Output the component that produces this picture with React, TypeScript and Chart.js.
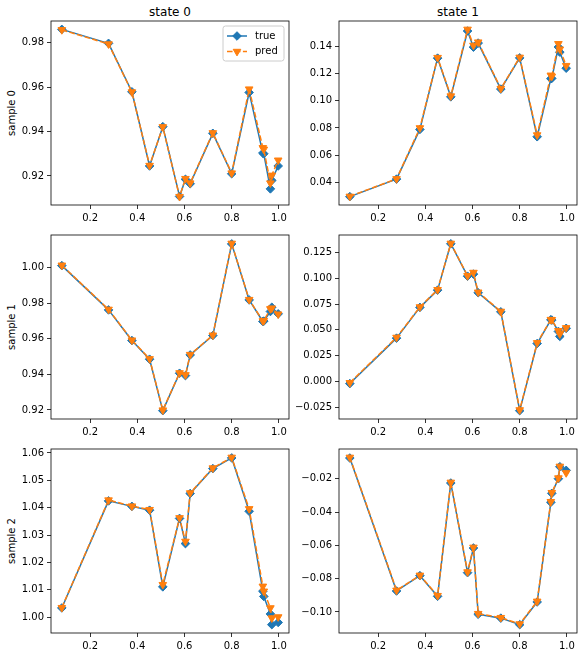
import React, { useEffect, useRef } from 'react';
import { Chart, registerables } from 'chart.js';

Chart.register(...registerables);

const FONT = '"DejaVu Sans", sans-serif';
const BLUE = '#1f77b4';
const ORANGE = '#ff7f0e';

// ---------------- data ----------------
const timePoints = [0.08, 0.278, 0.377, 0.452, 0.508, 0.579, 0.604, 0.624, 0.72, 0.8, 0.874, 0.932, 0.936, 0.964, 0.97, 0.997];
const xTicks = [0.2, 0.4, 0.6, 0.8, 1.0];
const stateTitles = ['state 0', 'state 1'];
const sampleLabels = ['sample 0', 'sample 1', 'sample 2'];
const legendLabels = ['true', 'pred'];

const s0State0True = [0.986, 0.9797, 0.9579, 0.9245, 0.9422, 0.9108, 0.9185, 0.9165, 0.9392, 0.921, 0.9576, 0.9303, 0.93, 0.9142, 0.918, 0.9245];
const s0State0Pred = [0.9858, 0.9794, 0.9578, 0.9247, 0.9421, 0.9107, 0.9188, 0.9168, 0.9394, 0.9213, 0.9591, 0.9327, 0.932, 0.9168, 0.9203, 0.9271];
const s0State1True = [0.0294, 0.0423, 0.0789, 0.1314, 0.1029, 0.1514, 0.1395, 0.1425, 0.1086, 0.1316, 0.0735, 0.1163, 0.1165, 0.1396, 0.1358, 0.124];
const s0State1Pred = [0.0296, 0.0425, 0.08, 0.1318, 0.1035, 0.1526, 0.1408, 0.1432, 0.109, 0.132, 0.0748, 0.1188, 0.118, 0.142, 0.138, 0.1259];

const s1State0True = [1.0011, 0.9762, 0.959, 0.9485, 0.9196, 0.9406, 0.9393, 0.9509, 0.9618, 1.0133, 0.9818, 0.9697, 0.9699, 0.9753, 0.9777, 0.974];
const s1State0Pred = [1.0013, 0.9765, 0.9592, 0.9487, 0.9199, 0.9408, 0.9397, 0.9511, 0.962, 1.0136, 0.982, 0.97, 0.9702, 0.9768, 0.9772, 0.9738];
const s1State1True = [-0.002, 0.042, 0.0718, 0.0885, 0.1334, 0.102, 0.104, 0.086, 0.0675, -0.0282, 0.0368, 0.0598, 0.0595, 0.0485, 0.0437, 0.0515];
const s1State1Pred = [-0.0012, 0.0427, 0.0722, 0.0889, 0.1338, 0.1024, 0.1056, 0.0865, 0.0679, -0.0275, 0.0375, 0.06, 0.0598, 0.0492, 0.046, 0.052];

const s2State0True = [1.0034, 1.0425, 1.0405, 1.0391, 1.0111, 1.0361, 1.0269, 1.0452, 1.0543, 1.0582, 1.0387, 1.0095, 1.0076, 1.0012, 0.9973, 0.9981];
const s2State0Pred = [1.0035, 1.0428, 1.0406, 1.0393, 1.0119, 1.0363, 1.0277, 1.0454, 1.0545, 1.0584, 1.0396, 1.0113, 1.0095, 1.0034, 0.9997, 1.0001];
const s2State1True = [-0.0076, -0.0874, -0.0782, -0.0906, -0.0226, -0.0764, -0.0616, -0.1014, -0.1037, -0.1076, -0.094, -0.0342, -0.0288, -0.02, -0.0128, -0.015];
const s2State1Pred = [-0.0072, -0.087, -0.078, -0.0902, -0.0222, -0.076, -0.0612, -0.101, -0.1034, -0.1072, -0.0936, -0.0338, -0.0284, -0.0196, -0.0126, -0.0165];

const s0State0Ticks = [0.92, 0.94, 0.96, 0.98];
const s0State1Ticks = [0.04, 0.06, 0.08, 0.1, 0.12, 0.14];
const s1State0Ticks = [0.92, 0.94, 0.96, 0.98, 1.0];
const s1State1Ticks = [-0.025, 0, 0.025, 0.05, 0.075, 0.1, 0.125];
const s2State0Ticks = [1.0, 1.01, 1.02, 1.03, 1.04, 1.05, 1.06];
const s2State1Ticks = [-0.1, -0.08, -0.06, -0.04, -0.02];

// ---------------- layout ----------------
const COL_LEFT = [51, 339];
const COL_YW = [51, 48];
const ROW_TOP = [21, 235, 449];
const CHART_W = 238;
const CHART_H = 184;
const PAD_T = 12;
const PAD_R = 8;
const X_H = 20;
const DIAMOND_R = 4.3;
const TRI_R = 4.4;

function fmt(v: number, d: number) {
  const s = Math.abs(v) < 1e-12 ? (0).toFixed(d) : v.toFixed(d);
  return s.replace('-', '\u2212');
}

function drawDiamond(ctx: CanvasRenderingContext2D, x: number, y: number, r: number, color: string) {
  ctx.beginPath();
  ctx.moveTo(x, y - r);
  ctx.lineTo(x + r, y);
  ctx.lineTo(x, y + r);
  ctx.lineTo(x - r, y);
  ctx.closePath();
  ctx.fillStyle = color;
  ctx.strokeStyle = color;
  ctx.lineWidth = 1;
  ctx.setLineDash([]);
  ctx.fill();
  ctx.stroke();
}

function drawTriDown(ctx: CanvasRenderingContext2D, x: number, y: number, r: number, color: string) {
  const w = r * Math.sqrt(3) / 2;
  ctx.beginPath();
  ctx.moveTo(x, y + r);
  ctx.lineTo(x - w, y - r / 2);
  ctx.lineTo(x + w, y - r / 2);
  ctx.closePath();
  ctx.fillStyle = color;
  ctx.strokeStyle = color;
  ctx.lineWidth = 1;
  ctx.setLineDash([]);
  ctx.fill();
  ctx.stroke();
}

type PanelProps = {
  trueVals: number[];
  predVals: number[];
  yTicks: number[];
  decimals: number;
  col: number;
  row: number;
  showLegend: boolean;
};

function Panel({ trueVals, predVals, yTicks, decimals, col, row, showLegend }: PanelProps) {
  const ref = useRef<HTMLCanvasElement>(null);
  const yW = COL_YW[col];
  const left = COL_LEFT[col] - yW;
  const top = ROW_TOP[row] - PAD_T;
  const w = yW + CHART_W + PAD_R;
  const h = PAD_T + CHART_H + X_H;

  useEffect(() => {
    if (!ref.current) return;
    const all = [...trueVals, ...predVals];
    const lo = Math.min(...all);
    const hi = Math.max(...all);
    const pad = (hi - lo) * 0.05;
    const xlo = Math.min(...timePoints);
    const xhi = Math.max(...timePoints);
    const xpad = (xhi - xlo) * 0.05;

    const framePlugin = {
      id: 'frame',
      afterDatasetsDraw(chart: any) {
        const ctx = chart.ctx as CanvasRenderingContext2D;
        const a = chart.chartArea;
        ctx.save();
        ctx.strokeStyle = '#000';
        ctx.lineWidth = 0.8;
        ctx.setLineDash([]);
        ctx.strokeRect(a.left, a.top, a.right - a.left, a.bottom - a.top);
        if (showLegend) {
          const bw = 61;
          const bh = 35;
          const x0 = a.right - 5 - bw;
          const y0 = a.top + 5;
          const rr = 2.5;
          ctx.beginPath();
          ctx.moveTo(x0 + rr, y0);
          ctx.lineTo(x0 + bw - rr, y0);
          ctx.quadraticCurveTo(x0 + bw, y0, x0 + bw, y0 + rr);
          ctx.lineTo(x0 + bw, y0 + bh - rr);
          ctx.quadraticCurveTo(x0 + bw, y0 + bh, x0 + bw - rr, y0 + bh);
          ctx.lineTo(x0 + rr, y0 + bh);
          ctx.quadraticCurveTo(x0, y0 + bh, x0, y0 + bh - rr);
          ctx.lineTo(x0, y0 + rr);
          ctx.quadraticCurveTo(x0, y0, x0 + rr, y0);
          ctx.closePath();
          ctx.fillStyle = 'rgba(255,255,255,0.8)';
          ctx.fill();
          ctx.strokeStyle = '#cccccc';
          ctx.lineWidth = 1;
          ctx.stroke();
          const entries = [
            { label: legendLabels[0], color: BLUE, dash: [] as number[], y: y0 + 10 },
            { label: legendLabels[1], color: ORANGE, dash: [5.55, 2.4], y: y0 + 25.5 },
          ];
          entries.forEach((e, i) => {
            ctx.beginPath();
            ctx.setLineDash(e.dash);
            ctx.strokeStyle = e.color;
            ctx.lineWidth = 1.5;
            ctx.moveTo(x0 + 4, e.y);
            ctx.lineTo(x0 + 24, e.y);
            ctx.stroke();
            if (i === 0) drawDiamond(ctx, x0 + 14, e.y, DIAMOND_R, e.color);
            else drawTriDown(ctx, x0 + 14, e.y, TRI_R, e.color);
            ctx.fillStyle = '#000';
            ctx.font = `10px ${FONT}`;
            ctx.textBaseline = 'middle';
            ctx.textAlign = 'left';
            ctx.fillText(e.label, x0 + 32, e.y);
          });
        }
        ctx.restore();
      },
    };

    const gridOpts = {
      drawOnChartArea: false,
      drawTicks: true,
      tickLength: 4,
      color: '#000',
      lineWidth: 0.8,
    };
    const tickFont = { family: FONT, size: 10 };

    const chart = new Chart(ref.current, {
      type: 'line',
      data: {
        datasets: [
          {
            label: legendLabels[0],
            data: timePoints.map((x, i) => ({ x, y: trueVals[i] })),
            borderColor: BLUE,
            backgroundColor: BLUE,
            borderWidth: 1.5,
            borderJoinStyle: 'round',
            pointStyle: 'rectRot',
            pointRadius: DIAMOND_R,
            pointBorderWidth: 1,
            pointBorderColor: BLUE,
            pointBackgroundColor: BLUE,
            tension: 0,
            fill: false,
            order: 1,
          },
          {
            label: legendLabels[1],
            data: timePoints.map((x, i) => ({ x, y: predVals[i] })),
            borderColor: ORANGE,
            backgroundColor: ORANGE,
            borderWidth: 1.5,
            borderDash: [5.55, 2.4],
            borderJoinStyle: 'round',
            pointStyle: 'triangle',
            pointRotation: 180,
            pointRadius: TRI_R,
            pointBorderWidth: 1,
            pointBorderColor: ORANGE,
            pointBackgroundColor: ORANGE,
            tension: 0,
            fill: false,
            order: 0,
          },
        ],
      } as any,
      options: {
        responsive: false,
        animation: false,
        devicePixelRatio: 1,
        events: [],
        layout: { padding: { top: PAD_T, right: PAD_R, left: 0, bottom: 0 } },
        plugins: { legend: { display: false }, tooltip: { enabled: false }, title: { display: false } },
        scales: {
          x: {
            type: 'linear',
            min: xlo - xpad,
            max: xhi + xpad,
            afterFit: (s: any) => { s.height = X_H; },
            afterBuildTicks: (s: any) => { s.ticks = xTicks.map((v) => ({ value: v })); },
            grid: gridOpts,
            border: { display: false },
            ticks: {
              color: '#000',
              font: tickFont,
              padding: 3,
              maxRotation: 0,
              autoSkip: false,
              callback: (v: any) => fmt(Number(v), 1),
            },
          },
          y: {
            type: 'linear',
            min: lo - pad,
            max: hi + pad,
            afterFit: (s: any) => { s.width = yW; },
            afterBuildTicks: (s: any) => { s.ticks = yTicks.map((v) => ({ value: v })); },
            grid: gridOpts,
            border: { display: false },
            ticks: {
              color: '#000',
              font: tickFont,
              padding: 3,
              autoSkip: false,
              callback: (v: any) => fmt(Number(v), decimals),
            },
          },
        },
      } as any,
      plugins: [framePlugin],
    });
    return () => chart.destroy();
  }, []);

  return (
    <canvas
      ref={ref}
      width={w}
      height={h}
      style={{ position: 'absolute', left, top, width: w, height: h }}
    />
  );
}

const panels = [
  { trueVals: s0State0True, predVals: s0State0Pred, yTicks: s0State0Ticks, decimals: 2, col: 0, row: 0 },
  { trueVals: s0State1True, predVals: s0State1Pred, yTicks: s0State1Ticks, decimals: 2, col: 1, row: 0 },
  { trueVals: s1State0True, predVals: s1State0Pred, yTicks: s1State0Ticks, decimals: 2, col: 0, row: 1 },
  { trueVals: s1State1True, predVals: s1State1Pred, yTicks: s1State1Ticks, decimals: 3, col: 1, row: 1 },
  { trueVals: s2State0True, predVals: s2State0Pred, yTicks: s2State0Ticks, decimals: 2, col: 0, row: 2 },
  { trueVals: s2State1True, predVals: s2State1Pred, yTicks: s2State1Ticks, decimals: 2, col: 1, row: 2 },
];

export default function App() {
  return (
    <div style={{ position: 'absolute', left: 0, top: 0, width: 585, height: 655, background: '#fff', fontFamily: FONT }}>
      {stateTitles.map((t, c) => (
        <div
          key={t}
          style={{
            position: 'absolute',
            left: COL_LEFT[c] + CHART_W / 2,
            top: 11.5,
            transform: 'translate(-50%, -50%)',
            fontSize: 12,
            lineHeight: 1,
            whiteSpace: 'nowrap',
            color: '#000',
          }}
        >
          {t}
        </div>
      ))}
      {sampleLabels.map((t, r) => (
        <div
          key={t}
          style={{
            position: 'absolute',
            left: 11.5,
            top: ROW_TOP[r] + CHART_H / 2,
            transform: 'translate(-50%, -50%) rotate(-90deg)',
            fontSize: 10,
            lineHeight: 1,
            whiteSpace: 'nowrap',
            color: '#000',
          }}
        >
          {t}
        </div>
      ))}
      {panels.map((p, i) => (
        <Panel key={i} {...p} showLegend={i === 0} />
      ))}
    </div>
  );
}
